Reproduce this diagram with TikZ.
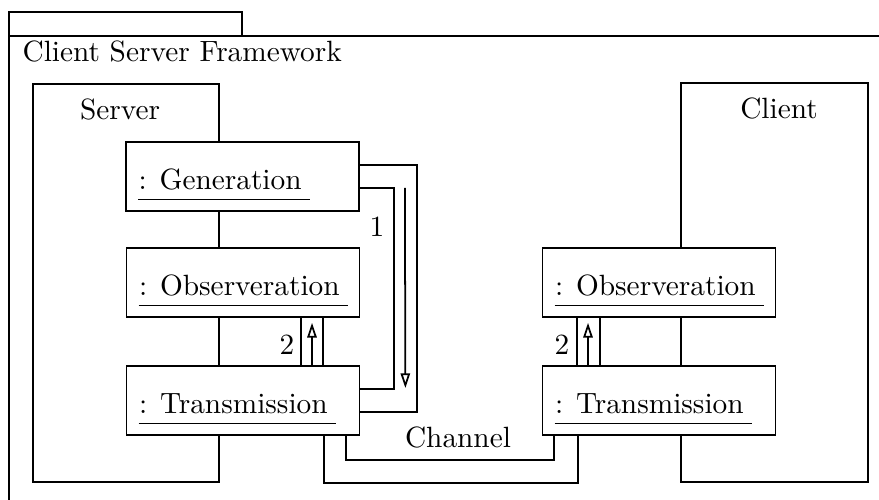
\documentclass[tikz,border=0pt]{standalone}
\usetikzlibrary{arrows.meta}
\newdimen\pxu
\pxu=0.341pt
\tikzset{
  line/.style={line width=0.6pt},
  container/.style={draw, line, minimum width=#1, inner sep=0pt},
  objbox/.style={draw, line, fill=white, minimum width=233\pxu, minimum height=69\pxu, inner sep=0pt},
  lbl/.style={inner sep=0pt},
  msg/.style={line, -{Triangle[open, length=5pt, width=3.2pt]}},
}
% object box: name, x, y, label text
\newcommand\objbox[4]{%
  \node[objbox] (#1) at (#2,#3) {};
  \node[lbl, anchor=base west] (#1-t) at ([xshift=13\pxu, yshift=-13\pxu]#1.west) {:\hspace{1pt}~#4};
  \draw[line] ([yshift=-10\pxu]#1-t.base west) -- ([xshift=8\pxu, yshift=-10\pxu]#1-t.base east);
}
\begin{document}
\begin{tikzpicture}[x=\pxu, y=-\pxu]
\useasboundingbox (0,0) rectangle (879,500);

% package frame with its tab
\draw[line] (9,36) -- (9,12) -- (242,12) -- (242,36);
\draw[line] (9,500) -- (9,36) -- (879,36);
\node[lbl, anchor=base west] (title) at (22,62) {Client Server Framework};

% server and client containers
\node[container=186\pxu, minimum height=398\pxu] (server) at (126,283) {};
\node[lbl, anchor=base] (serverlbl) at (120,120) {Server};
\node[container=187\pxu, minimum height=399\pxu] (client) at (774.5,282.5) {};
\node[lbl, anchor=base] (clientlbl) at (779,119) {Client};

% objects
\objbox{sgen}{242.5}{176.5}{Generation}
\objbox{sobs}{243}{282.5}{Observeration}
\objbox{strans}{243}{400.5}{Transmission}
\objbox{cobs}{659}{282.5}{Observeration}
\objbox{ctrans}{659}{400.5}{Transmission}

% link 1: generation to transmission
\draw[line] ([yshift=11.5\pxu]sgen.east) -- ++(57,0) |- ([yshift=-11.5\pxu]strans.east);
\draw[line] ([yshift=-11.5\pxu]sgen.east) -- ++(34,0) |- ([yshift=11.5\pxu]strans.east);
\draw[msg] ([xshift=45\pxu, yshift=-11.5\pxu]sgen.east) -- ([xshift=45\pxu, yshift=12.5\pxu]strans.east);
\node[lbl] (one) at (377,227) {1};

% link 2 on the server side
\draw[line] ([xshift=58\pxu]sobs.south) -- ([xshift=58\pxu]strans.north);
\draw[line] ([xshift=80\pxu]sobs.south) -- ([xshift=80\pxu]strans.north);
\draw[msg] ([xshift=69\pxu]strans.north) -- ([xshift=69\pxu, yshift=-5\pxu]sobs.south);
\node[lbl] (stwo) at (287,345) {2};

% link 2 on the client side
\draw[line] ([xshift=-82\pxu]cobs.south) -- ([xshift=-82\pxu]ctrans.north);
\draw[line] ([xshift=-59\pxu]cobs.south) -- ([xshift=-59\pxu]ctrans.north);
\draw[msg] ([xshift=-71\pxu]ctrans.north) -- ([xshift=-71\pxu, yshift=-5\pxu]cobs.south);
\node[lbl] (ctwo) at (562,345) {2};

% channel between the two transmissions
\draw[line] ([xshift=103\pxu]strans.south) -- ++(0,24) -| ([xshift=-105\pxu]ctrans.south);
\draw[line] ([xshift=81\pxu]strans.south) -- ++(0,47) -| ([xshift=-81\pxu]ctrans.south);
\node[lbl] (channel) at (458,437) {Channel};
\end{tikzpicture}
\end{document}
